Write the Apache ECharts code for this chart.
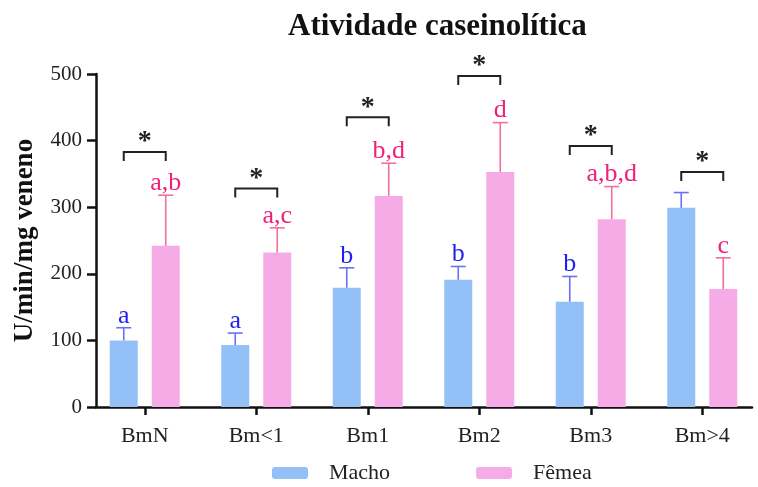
<!DOCTYPE html>
<html>
<head>
<meta charset="utf-8">
<script src="https://cdn.jsdelivr.net/npm/echarts@6/dist/echarts.min.js"></script>
<style>
  html, body { margin: 0; padding: 0; background: #fff; }
  #chart { width: 758px; height: 487px; }
</style>
</head>
<body>
<div id="chart"></div>
<script>
// Caseinolytic activity by group, male vs female (mean + SD)
const categories = ['BmN', 'Bm<1', 'Bm1', 'Bm2', 'Bm3', 'Bm>4'];
const machoMean = [100, 93, 179, 191, 158, 299];
const machoSD = [19, 18, 30, 20, 38, 23];
const femeaMean = [242, 232, 317, 353, 282, 177];
const femeaSD = [76, 37, 49, 74, 49, 47];
const machoLetters = ['a', 'a', 'b', 'b', 'b', ''];
const femeaLetters = ['a,b', 'a,c', 'b,d', 'd', 'a,b,d', 'c'];
const bracketLevel = [383, 328, 435, 497, 392, 353];
const yTicks = [0, 100, 200, 300, 400, 500];

const FONT = '"Liberation Serif", "Times New Roman", serif';
const BAR_W = 28;
const HALF_SHIFT = 21; // distance from category centre to each bar centre

const colors = {
  machoBar: '#93c0f7',
  femeaBar: '#f5ace6',
  machoErr: '#6b70f0',
  femeaErr: '#f2709a',
  machoText: '#1f1ff0',
  femeaText: '#f0207a'
};

function errorSeries(name, means, sds, letters, shift, lineColor, textColor) {
  return {
    type: 'custom',
    name: name + ' SD',
    xAxisIndex: 0,
    yAxisIndex: 0,
    z: 5,
    silent: true,
    data: means.map((m, i) => [i, m, m + sds[i]]),
    renderItem: function (params, api) {
      const i = api.value(0);
      const base = api.coord([i, api.value(1)]);
      const top = api.coord([i, api.value(2)]);
      const x = base[0] + shift;
      const cap = 7.5;
      const children = [
        { type: 'line', shape: { x1: x, y1: base[1], x2: x, y2: top[1] },
          style: { stroke: lineColor, lineWidth: 1.6 } },
        { type: 'line', shape: { x1: x - cap, y1: top[1], x2: x + cap, y2: top[1] },
          style: { stroke: lineColor, lineWidth: 1.6 } }
      ];
      const txt = letters[params.dataIndex];
      if (txt) {
        children.push({
          type: 'text',
          style: {
            x: x, y: top[1] + 1, text: txt,
            textAlign: 'center', textVerticalAlign: 'bottom',
            font: '26px ' + FONT, fill: textColor
          }
        });
      }
      return { type: 'group', children: children };
    }
  };
}

const bracketSeries = {
  type: 'custom',
  name: 'signif',
  xAxisIndex: 0,
  yAxisIndex: 0,
  z: 6,
  silent: true,
  data: bracketLevel.map((v, i) => [i, v]),
  renderItem: function (params, api) {
    const p = api.coord([api.value(0), api.value(1)]);
    const x1 = p[0] - HALF_SHIFT, x2 = p[0] + HALF_SHIFT, y = p[1];
    const drop = 9;
    return {
      type: 'group',
      children: [
        { type: 'polyline',
          shape: { points: [[x1, y + drop], [x1, y], [x2, y], [x2, y + drop]] },
          style: { stroke: '#222', lineWidth: 2, fill: null } },
        { type: 'text',
          style: { x: p[0], y: y + 4, text: '*', textAlign: 'center',
                   textVerticalAlign: 'bottom', font: 'bold 28px ' + FONT, fill: '#222' } }
      ]
    };
  }
};

const chart = echarts.init(document.getElementById('chart'), null, { renderer: 'canvas' });
chart.setOption({
  animation: false,
  backgroundColor: '#ffffff',
  title: {
    text: 'Atividade caseinolítica',
    left: 283,
    top: 6,
    textStyle: { fontFamily: FONT, fontSize: 31, fontWeight: 'bold', color: '#111' }
  },
  legend: {
    left: 267,
    top: 457,
    itemWidth: 36,
    itemHeight: 12,
    itemGap: 86,
    data: ['Macho', 'Fêmea'],
    textStyle: { fontFamily: FONT, fontSize: 22, color: '#222', padding: [0, 0, 0, 16] }
  },
  grid: [
    { left: 89, width: 683, top: 74, bottom: 80 },
    { left: 96, right: 6, top: 74, bottom: 80 }
  ],
  xAxis: [
    {
      type: 'category',
      gridIndex: 0,
      data: categories,
      axisLine: { show: false },
      axisTick: { show: true, alignWithLabel: true, length: 8, lineStyle: { color: '#111', width: 2.5 } },
      axisLabel: { fontFamily: FONT, fontSize: 22, color: '#222', margin: 18 }
    },
    {
      type: 'value',
      gridIndex: 1,
      min: 0, max: 1,
      axisLine: { show: true, lineStyle: { color: '#111', width: 2.5 } },
      axisTick: { show: false },
      axisLabel: { show: false },
      splitLine: { show: false }
    }
  ],
  yAxis: [
    {
      type: 'value', gridIndex: 0, min: 0, max: 500, interval: 100, show: false,
      splitLine: { show: false }
    },
    {
      type: 'value',
      gridIndex: 1,
      min: yTicks[0], max: yTicks[yTicks.length - 1], interval: 100,
      name: 'U/min/mg veneno',
      nameLocation: 'middle',
      nameGap: 57,
      nameTextStyle: { fontFamily: FONT, fontSize: 27, fontWeight: 'bold', color: '#111' },
      axisLine: { show: true, lineStyle: { color: '#111', width: 2.5 } },
      axisTick: { show: true, length: 9, lineStyle: { color: '#111', width: 2.5 } },
      axisLabel: { fontFamily: FONT, fontSize: 21, color: '#222', margin: 14 },
      splitLine: { show: false }
    }
  ],
  series: [
    {
      name: 'Macho', type: 'bar', xAxisIndex: 0, yAxisIndex: 0,
      data: machoMean, barWidth: BAR_W, barGap: '50%',
      itemStyle: { color: colors.machoBar }
    },
    {
      name: 'Fêmea', type: 'bar', xAxisIndex: 0, yAxisIndex: 0,
      data: femeaMean, barWidth: BAR_W, barGap: '50%',
      itemStyle: { color: colors.femeaBar }
    },
    errorSeries('Macho', machoMean, machoSD, machoLetters, -HALF_SHIFT, colors.machoErr, colors.machoText),
    errorSeries('Fêmea', femeaMean, femeaSD, femeaLetters, HALF_SHIFT, colors.femeaErr, colors.femeaText),
    bracketSeries
  ]
});
</script>
</body>
</html>
